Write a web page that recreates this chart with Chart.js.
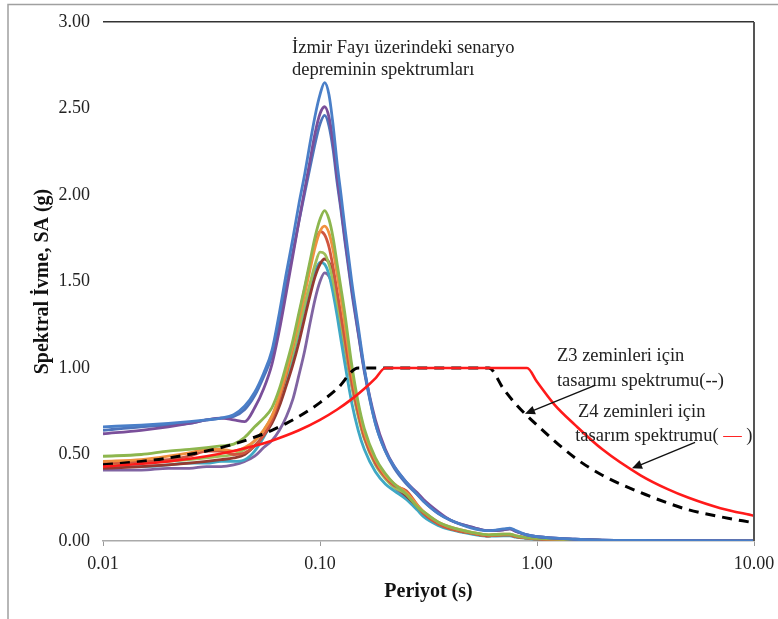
<!DOCTYPE html>
<html>
<head>
<meta charset="utf-8">
<script src="https://cdn.jsdelivr.net/npm/chart.js@4.4.1/dist/chart.umd.min.js"></script>
<style>
html, body { margin: 0; padding: 0; background: #fff; }
#wrap { position: relative; width: 778px; height: 619px; }
</style>
</head>
<body>
<div id="wrap"><canvas id="spectra" width="778" height="619"></canvas></div>
<script>
// periyot (s) - ortak eksen
var periods = [0.01, 0.015, 0.02, 0.025, 0.03, 0.035, 0.04, 0.045, 0.05, 0.055,
               0.06, 0.065, 0.07, 0.075, 0.08, 0.085, 0.09, 0.095, 0.1, 0.105,
               0.11, 0.115, 0.12, 0.125, 0.13, 0.14, 0.15, 0.16, 0.18, 0.2,
               0.22, 0.25, 0.28, 0.3, 0.35, 0.4, 0.5, 0.6, 0.7, 0.75,
               0.8, 0.9, 1.0, 1.5, 2, 3, 5, 10];

// senaryo depremi spektrumlari, SA (g)
var eqBlue1 = [0.66,0.67,0.68,0.69,0.70,0.71,0.73,0.78,0.86,0.97, 1.10,1.32,1.55,1.75,1.95,2.12,2.30,2.46,2.58,2.65,
               2.58,2.40,2.18,2.00,1.82,1.50,1.24,1.00,0.68,0.52, 0.43,0.34,0.27,0.23,0.16,0.12,0.075,0.06,0.07,0.075,
               0.06,0.035,0.025,0.01,0.005,0.003,0.002,0.001];
var eqBlue2 = [0.64,0.66,0.67,0.68,0.70,0.71,0.72,0.76,0.84,0.95, 1.07,1.27,1.48,1.67,1.85,2.01,2.16,2.30,2.41,2.46,
               2.40,2.26,2.07,1.91,1.74,1.44,1.20,0.98,0.68,0.52, 0.42,0.33,0.27,0.23,0.16,0.12,0.08,0.06,0.065,0.07,
               0.055,0.035,0.025,0.01,0.005,0.003,0.002,0.001];
var eqPurple1 = [0.62,0.64,0.66,0.68,0.70,0.71,0.70,0.69,0.77,0.88, 1.02,1.22,1.44,1.65,1.85,2.03,2.20,2.36,2.47,2.51,
               2.45,2.30,2.10,1.93,1.76,1.46,1.21,0.99,0.70,0.53, 0.43,0.34,0.28,0.24,0.17,0.12,0.08,0.06,0.065,0.07,
               0.055,0.035,0.025,0.01,0.005,0.003,0.002,0.001];
var eqGreen1 = [0.49,0.50,0.52,0.53,0.54,0.55,0.56,0.60,0.66,0.71, 0.77,0.88,1.02,1.16,1.32,1.47,1.62,1.76,1.86,1.91,
               1.86,1.75,1.60,1.46,1.32,1.02,0.80,0.65,0.48,0.39, 0.33,0.27,0.20,0.17,0.11,0.08,0.05,0.035,0.04,0.04,
               0.03,0.02,0.015,0.008,0.004,0.002,0.001,0];
var eqOrange = [0.46,0.47,0.49,0.51,0.53,0.53,0.52,0.54,0.58,0.64, 0.72,0.84,0.98,1.13,1.28,1.43,1.57,1.70,1.79,1.82,
               1.78,1.68,1.54,1.40,1.26,0.98,0.78,0.63,0.47,0.38, 0.33,0.28,0.21,0.17,0.11,0.08,0.05,0.035,0.04,0.04,
               0.03,0.02,0.015,0.008,0.004,0.002,0.001,0];
var eqRed = [0.45,0.46,0.47,0.49,0.52,0.52,0.50,0.51,0.55,0.61, 0.70,0.82,0.97,1.13,1.30,1.46,1.60,1.72,1.79,1.77,
               1.70,1.58,1.44,1.30,1.17,0.92,0.74,0.60,0.45,0.37, 0.32,0.29,0.21,0.16,0.10,0.07,0.045,0.03,0.035,0.035,
               0.025,0.018,0.012,0.006,0.003,0.002,0.001,0];
var eqGreen2 = [0.44,0.45,0.46,0.47,0.48,0.49,0.50,0.53,0.58,0.64, 0.72,0.83,0.96,1.09,1.23,1.37,1.49,1.60,1.67,1.66,
               1.60,1.50,1.38,1.26,1.13,0.90,0.72,0.59,0.44,0.36, 0.31,0.27,0.20,0.16,0.10,0.07,0.045,0.03,0.035,0.035,
               0.025,0.018,0.012,0.006,0.003,0.002,0.001,0];
var eqDarkRed = [0.42,0.43,0.44,0.45,0.46,0.47,0.48,0.50,0.55,0.61, 0.68,0.78,0.90,1.02,1.15,1.29,1.42,1.53,1.60,1.63,
               1.61,1.54,1.42,1.29,1.16,0.93,0.75,0.61,0.45,0.37, 0.32,0.26,0.20,0.16,0.10,0.07,0.045,0.03,0.035,0.035,
               0.025,0.018,0.012,0.006,0.003,0.002,0.001,0];
var eqAqua = [0.43,0.43,0.44,0.45,0.45,0.46,0.46,0.47,0.52,0.60, 0.69,0.80,0.93,1.07,1.21,1.35,1.47,1.56,1.61,1.60,
               1.54,1.43,1.30,1.16,1.03,0.80,0.64,0.53,0.40,0.33, 0.29,0.24,0.18,0.14,0.09,0.065,0.04,0.028,0.03,0.03,
               0.022,0.015,0.01,0.005,0.003,0.002,0.001,0];
var eqPurple2 = [0.41,0.41,0.42,0.42,0.43,0.43,0.44,0.46,0.49,0.54, 0.58,0.64,0.72,0.82,0.96,1.10,1.26,1.40,1.50,1.55,
               1.53,1.46,1.35,1.23,1.11,0.90,0.73,0.60,0.45,0.37, 0.31,0.25,0.19,0.15,0.10,0.07,0.045,0.03,0.035,0.035,
               0.025,0.018,0.012,0.006,0.003,0.002,0.001,0];

// tasarim spektrumlari
var z3Periods = [0.01,0.015,0.02,0.03,0.04,0.05,0.06,0.07,0.08,0.09,0.1,0.12,0.15,0.6,0.7,0.8,1,1.5,2,3,4,5,7,10];
var z3Values  = [0.44,0.46,0.48,0.52,0.56,0.60,0.64,0.68,0.72,0.76,0.80,0.88,1.00,1.00,0.88,0.79,0.67,0.48,0.38,0.28,0.22,0.18,0.14,0.105];
var z4Periods = [0.01,0.02,0.03,0.04,0.05,0.06,0.08,0.1,0.12,0.14,0.16,0.18,0.2,0.9,1,1.2,1.5,2,3,4,5,7,10];
var z4Values  = [0.43,0.46,0.49,0.52,0.55,0.58,0.64,0.70,0.76,0.82,0.88,0.94,1.00,1.00,0.92,0.79,0.67,0.53,0.38,0.30,0.25,0.19,0.146];

var xTicks = [0.01, 0.1, 1, 10];

var eqSeries = [eqBlue1, eqPurple1, eqBlue2, eqGreen1, eqOrange, eqRed, eqGreen2, eqDarkRed, eqAqua, eqPurple2];
var eqColors = ['#4a7fc8', '#7a4f9a', '#4d74bb', '#8db64e', '#f0903f', '#d0553f', '#9fbf5a', '#953a30', '#3fa8c4', '#8064a2'];

function toPoints(xs, ys) {
    return xs.map(function (x, i) { return {x: x, y: ys[i]}; });
}

var datasets = [
    {data: toPoints(z4Periods, z4Values), borderColor: '#ff1a1a', borderWidth: 2.6},
    {data: toPoints(z3Periods, z3Values), borderColor: '#000', borderWidth: 3, borderDash: [10, 7]}
];
eqSeries.forEach(function (s, i) {
    datasets.push({data: toPoints(periods, s), borderColor: eqColors[i], borderWidth: 2.8});
});

var serif = "'Liberation Serif', 'Times New Roman', serif";

function px(chart, t, sa) {
    return [chart.scales.x.getPixelForValue(t), chart.scales.y.getPixelForValue(sa)];
}

function arrow(ctx, from, to) {
    var ang = Math.atan2(to[1] - from[1], to[0] - from[0]);
    ctx.beginPath();
    ctx.moveTo(from[0], from[1]);
    ctx.lineTo(to[0] - 6 * Math.cos(ang), to[1] - 6 * Math.sin(ang));
    ctx.stroke();
    ctx.beginPath();
    ctx.moveTo(to[0], to[1]);
    ctx.lineTo(to[0] - 10 * Math.cos(ang) + 4.5 * Math.sin(ang), to[1] - 10 * Math.sin(ang) - 4.5 * Math.cos(ang));
    ctx.lineTo(to[0] - 10 * Math.cos(ang) - 4.5 * Math.sin(ang), to[1] - 10 * Math.sin(ang) + 4.5 * Math.cos(ang));
    ctx.closePath();
    ctx.fill();
}

var decor = {
    id: 'decor',
    afterDraw: function (chart) {
        var ctx = chart.ctx, a = chart.chartArea;
        ctx.save();
        // dis cerceve
        ctx.strokeStyle = '#a0a0a0';
        ctx.lineWidth = 1.5;
        ctx.beginPath();
        ctx.moveTo(8, 619); ctx.lineTo(8, 4.5); ctx.lineTo(778, 4.5);
        ctx.stroke();
        // grafik sag kenar
        ctx.strokeStyle = '#555';
        ctx.lineWidth = 2;
        ctx.beginPath();
        ctx.moveTo(a.right, a.top); ctx.lineTo(a.right, a.bottom);
        ctx.stroke();

        // y ekseni basligi
        ctx.fillStyle = '#111';
        ctx.font = 'bold 20px ' + serif;
        ctx.textAlign = 'center';
        ctx.textBaseline = 'middle';
        ctx.translate(43, (a.top + a.bottom) / 2);
        ctx.rotate(-Math.PI / 2);
        ctx.fillText('Spektral İvme, SA (g)', 0, 0);
        ctx.setTransform(1, 0, 0, 1, 0, 0);

        // notlar
        ctx.font = '18.5px ' + serif;
        ctx.fillStyle = '#222';
        ctx.textAlign = 'left';
        var p = px(chart, 0.0743, 2.85);
        ctx.fillText('İzmir Fayı üzerindeki senaryo', p[0], p[1]);
        p = px(chart, 0.0743, 2.72);
        ctx.fillText('depreminin spektrumları', p[0], p[1]);

        p = px(chart, 1.236, 1.069);
        ctx.fillText('Z3 zeminleri için', p[0], p[1]);
        p = px(chart, 1.236, 0.925);
        ctx.fillText('tasarımı spektrumu(--)', p[0], p[1]);

        p = px(chart, 1.545, 0.746);
        ctx.fillText('Z4 zeminleri için', p[0], p[1]);
        p = px(chart, 1.50, 0.607);
        var s1 = 'tasarım spektrumu( ';
        ctx.fillText(s1, p[0], p[1]);
        var w1 = ctx.measureText(s1).width;
        ctx.fillStyle = '#ff1a1a';
        ctx.fillText('—', p[0] + w1, p[1]);
        var w2 = ctx.measureText('— ').width;
        ctx.fillStyle = '#222';
        ctx.fillText(')', p[0] + w1 + w2, p[1]);

        // oklar
        ctx.strokeStyle = '#111';
        ctx.fillStyle = '#111';
        ctx.lineWidth = 1.4;
        arrow(ctx, px(chart, 1.85, 0.90), px(chart, 0.88, 0.735));
        arrow(ctx, px(chart, 5.35, 0.57), px(chart, 2.74, 0.42));
        ctx.restore();
    }
};

var spectraChart = new Chart(document.getElementById('spectra'), {
    type: 'line',
    data: {datasets: datasets},
    plugins: [decor],
    options: {
        responsive: false,
        animation: false,
        layout: {padding: {left: 0, right: 24, top: 22, bottom: 0}},
        elements: {
            point: {radius: 0},
            line: {cubicInterpolationMode: 'monotone', fill: false}
        },
        plugins: {legend: {display: false}, tooltip: {enabled: false}},
        scales: {
            x: {
                type: 'logarithmic',
                min: 0.01,
                max: 10,
                afterBuildTicks: function (s) {
                    s.ticks = xTicks.map(function (v) { return {value: v}; });
                },
                afterFit: function (s) {
                    s.height = 78;
                    s.paddingLeft = 0;
                    s.paddingRight = 0;
                },
                ticks: {
                    autoSkip: false,
                    maxRotation: 0,
                    padding: 7,
                    color: '#222',
                    font: {family: serif, size: 18},
                    callback: function (v) { return Number(v).toFixed(2); }
                },
                grid: {drawOnChartArea: false, drawTicks: true, tickLength: 5, color: '#999'},
                border: {display: true, color: '#aaa', width: 1.5},
                title: {
                    display: true,
                    text: 'Periyot (s)',
                    color: '#111',
                    font: {family: serif, size: 20, weight: 'bold'},
                    padding: {top: 0, bottom: 15}
                }
            },
            y: {
                min: 0,
                max: 3,
                afterFit: function (s) {
                    s.width = 103;
                    s.paddingTop = 0;
                    s.paddingBottom = 0;
                },
                ticks: {
                    stepSize: 0.5,
                    padding: 13,
                    color: '#222',
                    font: {family: serif, size: 18},
                    callback: function (v) { return Number(v).toFixed(2); }
                },
                grid: {
                    drawTicks: false,
                    lineWidth: 1.5,
                    color: function (c) { return c.tick && c.tick.value === 3 ? '#333' : 'rgba(0,0,0,0)'; }
                },
                border: {display: false}
            }
        }
    }
});
</script>
</body>
</html>
